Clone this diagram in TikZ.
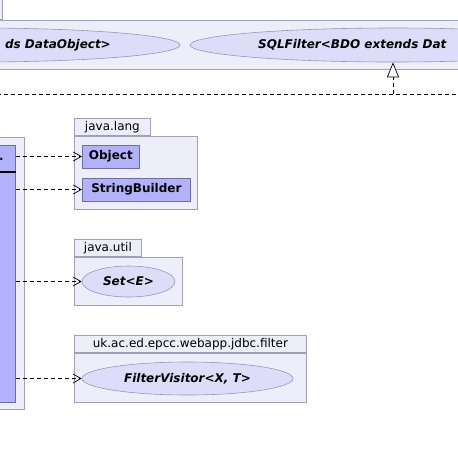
\documentclass[tikz,border=0pt]{standalone}
\usepackage{fontspec}
\setmainfont{DejaVu Sans}
\usetikzlibrary{positioning,arrows.meta,shapes.geometric}
\definecolor{umlPkg}{RGB}{238,238,251}
\definecolor{umlPkgLine}{RGB}{160,160,185}
\definecolor{umlCls}{RGB}{178,178,250}
\definecolor{umlClsLine}{RGB}{110,110,165}
\definecolor{umlIface}{RGB}{221,221,250}
\definecolor{umlIfaceLine}{RGB}{150,150,185}
\tikzset{
    base/.style={font=\fontsize{12}{14}\selectfont, inner sep=0pt},
    pkg/.style={draw=umlPkgLine, fill=umlPkg, line width=0.8pt},
    pkgtab/.style={base, pkg, anchor=south west, minimum height=17pt, inner xsep=6pt, align=left},
    pkgbody/.style={pkg, anchor=north west, inner sep=0pt},
    cls/.style={base, draw=umlClsLine, fill=umlCls, line width=0.8pt,
                font=\fontsize{12}{14}\selectfont\bfseries, minimum height=23pt},
    iface/.style={base, ellipse, draw=umlIfaceLine, fill=umlIface, line width=0.6pt,
                  font=\fontsize{12}{14}\selectfont\bfseries\itshape},
    ifacetext/.style={base, font=\fontsize{12}{14}\selectfont\bfseries\itshape},
    dashline/.style={dash pattern=on 4pt off 3pt, line width=0.7pt},
    dep/.style={dashline, -{Straight Barb[length=8pt,width=9pt]}},
    realize/.style={dashline, -{Triangle[length=15pt,width=12pt,fill=white,line width=0.7pt]}}
}
\begin{document}
\begin{tikzpicture}[x=1pt,y=-1pt]
  \useasboundingbox (0,0) rectangle (458,448);
  \clip (0,0) rectangle (458,448);

  % Top package with the filter classes
  \node[pkgbody, minimum width=62pt, minimum height=30pt, anchor=south west] (toptab) at (-60,20) {};
  \node[pkgbody, minimum width=580pt, minimum height=49pt] (toppkg) at (-60,20) {};
  \node[iface, minimum width=406pt, minimum height=34pt] (andf) at (-23,45) {};
  \node[ifacetext, anchor=east] (andtxt) at (111,45) {ds DataObject>};
  \node[iface, minimum width=406pt, minimum height=34pt] (sqlf) at (393,45) {};
  \node[ifacetext, anchor=west] (sqltxt) at (258,45) {SQLFilter<BDO extends Dat};

  % Realization
  \coordinate (rleft) at (-10,94);
  \coordinate (rright) at (470,94);
  \coordinate (rbend) at (393,94);
  \draw[dashline] (rleft) -- (rright);
  \draw[realize] (rbend) -- (sqlf);

  % Left package with the class
  \node[pkgbody, minimum width=84pt, minimum height=272pt] (leftpkg) at (-60,137) {};
  \node[cls, minimum width=76pt, minimum height=257pt, anchor=north east] (filt) at (16,145) {};
  \draw[line width=2pt] (filt.west |- 0,172) -- (filt.east |- 0,172);
  \node[base, font=\fontsize{12}{14}\selectfont\bfseries, anchor=base] (dot) at (1.5,160) {.};

  % java.lang
  \node[pkgtab, minimum width=76pt] (langtab) at (74,136) {java.lang};
  \node[pkgbody, minimum width=123pt, minimum height=73pt] (lang) at (74,136) {};
  \node[cls, minimum width=57pt, anchor=west] (obj) at (82,156.5) {Object};
  \node[cls, minimum width=108pt, anchor=west] (sb) at (82,189.5) {StringBuilder};

  % java.util
  \node[pkgtab, minimum width=67pt] (utiltab) at (74,257) {java.util};
  \node[pkgbody, minimum width=108pt, minimum height=48pt] (util) at (74,257) {};
  \node[iface, minimum width=93pt, minimum height=31pt] (set) at (128.5,281.5) {Set<E>};

  % uk.ac.ed.epcc.webapp.jdbc.filter
  \node[pkgtab, minimum width=232pt] (filtertab) at (74,353) {uk.ac.ed.epcc.webapp.jdbc.filter};
  \node[pkgbody, minimum width=232pt, minimum height=49pt] (filter) at (74,353) {};
  \node[iface, minimum width=211pt, minimum height=33pt] (visitor) at (187.5,378.5) {FilterVisitor<X, T>};

  % Dependencies
  \draw[dep] (obj -| filt.east) -- (obj);
  \draw[dep] (sb -| filt.east) -- (sb);
  \draw[dep] (set -| filt.east) -- (set);
  \draw[dep] (visitor -| filt.east) -- (visitor);
\end{tikzpicture}
\end{document}
